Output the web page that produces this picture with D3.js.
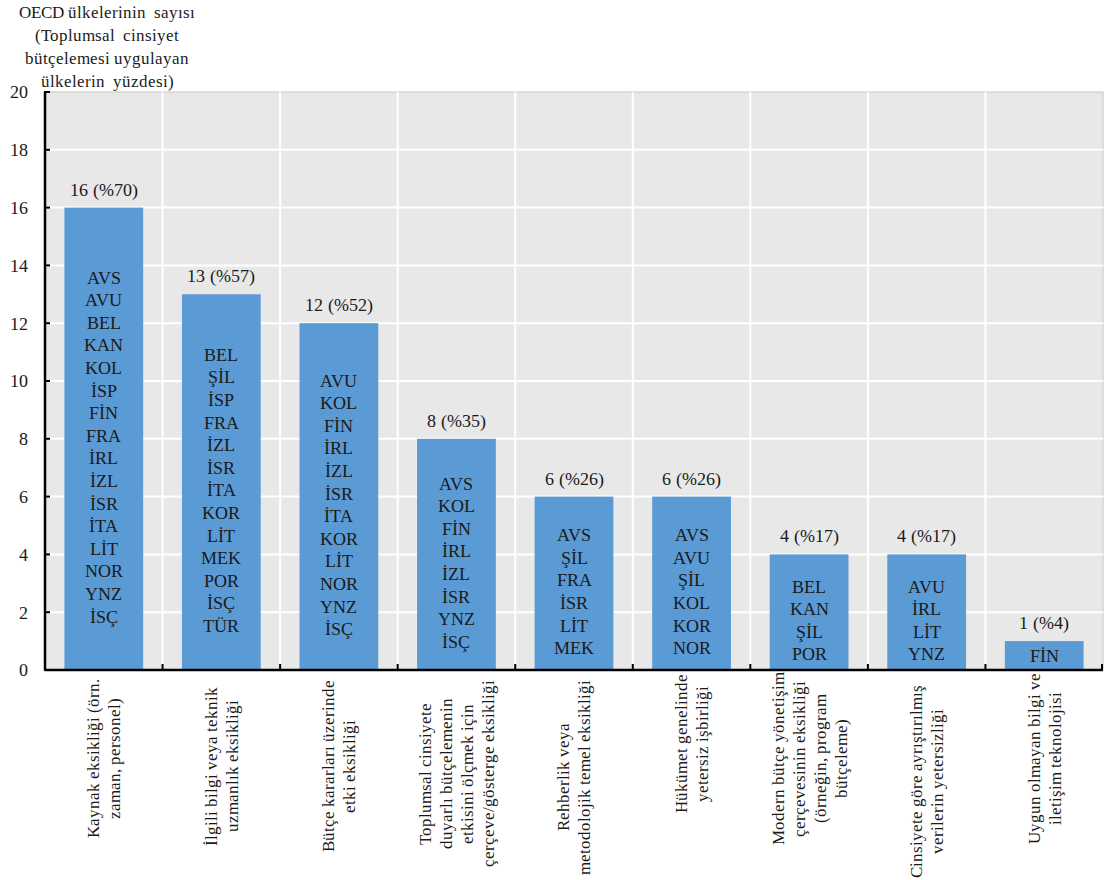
<!DOCTYPE html>
<html>
<head>
<meta charset="utf-8">
<script src="https://cdn.jsdelivr.net/npm/d3@7"></script>
<style>
  @font-face { font-family: "ChartSerif"; src: local("Liberation Serif"), local("LiberationSerif"), local("Liberation Serif Regular"), local("LiberationSerif-Regular"); font-display: swap; }
  body { margin: 0; background: #ffffff; }
  #chart text { font-family: ChartSerif, "Liberation Serif", serif; }
</style>
</head>
<body>
<svg id="chart" width="1105" height="880"></svg>
<script>
const categories = [
  ["Kaynak eksikliği (örn.", "zaman, personel)"],
  ["İlgili bilgi veya teknik", "uzmanlık eksikliği"],
  ["Bütçe kararları üzerinde", "etki eksikliği"],
  ["Toplumsal cinsiyete", "duyarlı bütçelemenin", "etkisini ölçmek için", "çerçeve/gösterge eksikliği"],
  ["Rehberlik veya", "metodolojik temel eksikliği"],
  ["Hükümet genelinde", "yetersiz işbirliği"],
  ["Modern bütçe yönetişim", "çerçevesinin eksikliği", "(örneğin, program", "bütçeleme)"],
  ["Cinsiyete göre ayrıştırılmış", "verilerin yetersizliği"],
  ["Uygun olmayan bilgi ve", "iletişim teknolojisi"]
];
const counts = [16, 13, 12, 8, 6, 6, 4, 4, 1];
const percents = [70, 57, 52, 35, 26, 26, 17, 17, 4];
const countries = [
  ["AVS","AVU","BEL","KAN","KOL","İSP","FİN","FRA","İRL","İZL","İSR","İTA","LİT","NOR","YNZ","İSÇ"],
  ["BEL","ŞİL","İSP","FRA","İZL","İSR","İTA","KOR","LİT","MEK","POR","İSÇ","TÜR"],
  ["AVU","KOL","FİN","İRL","İZL","İSR","İTA","KOR","LİT","NOR","YNZ","İSÇ"],
  ["AVS","KOL","FİN","İRL","İZL","İSR","YNZ","İSÇ"],
  ["AVS","ŞİL","FRA","İSR","LİT","MEK"],
  ["AVS","AVU","ŞİL","KOL","KOR","NOR"],
  ["BEL","KAN","ŞİL","POR"],
  ["AVU","İRL","LİT","YNZ"],
  ["FİN"]
];
const yTicks = [0, 2, 4, 6, 8, 10, 12, 14, 16, 18, 20];
const yTitle = ["OECD ülkelerinin  sayısı", "(Toplumsal  cinsiyet", "bütçelemesi uygulayan", "ülkelerin  yüzdesi)"];

const svg = d3.select("#chart");
const margin = { left: 45, right: 2, top: 92, bottom: 210 };
const W = 1105, H = 880;
const x0 = margin.left, x1 = W - margin.right;
const yTop = margin.top, yBot = H - margin.bottom;

const idx = d3.range(categories.length);
const x = d3.scaleBand().domain(idx).range([x0, x1]).paddingInner(0.33).paddingOuter(0.165);
const xb = d3.scaleBand().domain(idx).range([x0, x1]).padding(0);
const y = d3.scaleLinear().domain([0, 20]).range([yBot, yTop]);

function txt(sel, size) {
  return sel.attr("font-size", size).attr("fill", "#1a1a1a");
}

// plot background
svg.append("rect").attr("x", x0).attr("y", yTop).attr("width", x1 - x0).attr("height", yBot - yTop)
  .attr("fill", "#e8e8e8").attr("stroke", "#c6c6c6").attr("stroke-width", 1);

// horizontal gridlines
svg.append("g").selectAll("line").data(yTicks.filter(d => d > 0 && d < 20)).join("line")
  .attr("x1", x0).attr("x2", x1).attr("y1", d => y(d)).attr("y2", d => y(d))
  .attr("stroke", "#ffffff").attr("stroke-width", 2);
// vertical gridlines at category boundaries
svg.append("g").selectAll("line").data(idx.slice(1)).join("line")
  .attr("x1", d => xb(d)).attr("x2", d => xb(d)).attr("y1", yTop).attr("y2", yBot)
  .attr("stroke", "#ffffff").attr("stroke-width", 2);

// bars
svg.append("g").selectAll("rect").data(counts).join("rect")
  .attr("x", (d, i) => x(i)).attr("width", x.bandwidth())
  .attr("y", d => y(d)).attr("height", d => yBot - y(d))
  .attr("fill", "#5b9bd5");

// value labels
txt(svg.append("g").selectAll("text").data(counts).join("text"), 18)
  .attr("x", (d, i) => x(i) + x.bandwidth() / 2).attr("y", d => y(d) - 12)
  .attr("text-anchor", "middle")
  .text((d, i) => `${d} (%${percents[i]})`);

// country labels inside bars
const lh = 22.6;
const cg = svg.append("g");
countries.forEach((list, i) => {
  const cx = x(i) + x.bandwidth() / 2;
  const top = y(counts[i]);
  const mid = (top + yBot) / 2 + (list.length > 1 ? 8 : 0);
  const startY = mid - (list.length - 1) * lh / 2;
  const t = txt(cg.append("text"), 18).attr("text-anchor", "middle");
  list.forEach((c, j) => {
    t.append("tspan").attr("x", cx).attr("y", startY + j * lh).attr("dy", "0.35em").text(c);
  });
});

// y axis
const gy = svg.append("g");
gy.append("line").attr("x1", x0).attr("x2", x0).attr("y1", yTop).attr("y2", yBot)
  .attr("stroke", "#000").attr("stroke-width", 2.5);
gy.selectAll("line.tk").data(yTicks).join("line").attr("class", "tk")
  .attr("x1", x0 - 1).attr("x2", x0 + 5).attr("y1", d => y(d)).attr("y2", d => y(d))
  .attr("stroke", "#000").attr("stroke-width", 2);
txt(gy.selectAll("text").data(yTicks).join("text"), 18)
  .attr("x", x0 - 17).attr("y", d => y(d)).attr("dy", "0.35em").attr("text-anchor", "end")
  .text(d => d);

// bottom axis line + ticks
svg.append("line").attr("x1", x0).attr("x2", x1).attr("y1", yBot).attr("y2", yBot)
  .attr("stroke", "#000").attr("stroke-width", 2.5);
svg.append("g").selectAll("line").data(idx.slice(1).concat([categories.length])).join("line")
  .attr("x1", d => d < categories.length ? xb(d) : x1 - 1)
  .attr("x2", d => d < categories.length ? xb(d) : x1 - 1)
  .attr("y1", yBot - 6).attr("y2", yBot)
  .attr("stroke", "#000").attr("stroke-width", 2);

// category labels (rotated)
const catLH = 21;
const charW = 7.5;
categories.forEach((lines, i) => {
  const maxW = d3.max(lines, l => l.length) * charW;
  const cx = xb(i) + xb.bandwidth() / 2;
  const cy = yBot + 6 + maxW / 2;
  const g = svg.append("g").attr("transform", `translate(${cx},${cy}) rotate(-90)`);
  const t = txt(g.append("text"), 17).attr("text-anchor", "middle");
  const off = -(lines.length - 1) * catLH / 2;
  lines.forEach((l, j) => {
    t.append("tspan").attr("x", 0).attr("y", off + j * catLH).attr("dy", "0.35em").text(l);
  });
});

// y title
const tt = txt(svg.append("text"), 17).attr("text-anchor", "middle");
yTitle.forEach((l, j) => {
  tt.append("tspan").attr("x", 107).attr("y", 18 + j * 23).attr("xml:space", "preserve").text(l);
});
</script>
</body>
</html>
